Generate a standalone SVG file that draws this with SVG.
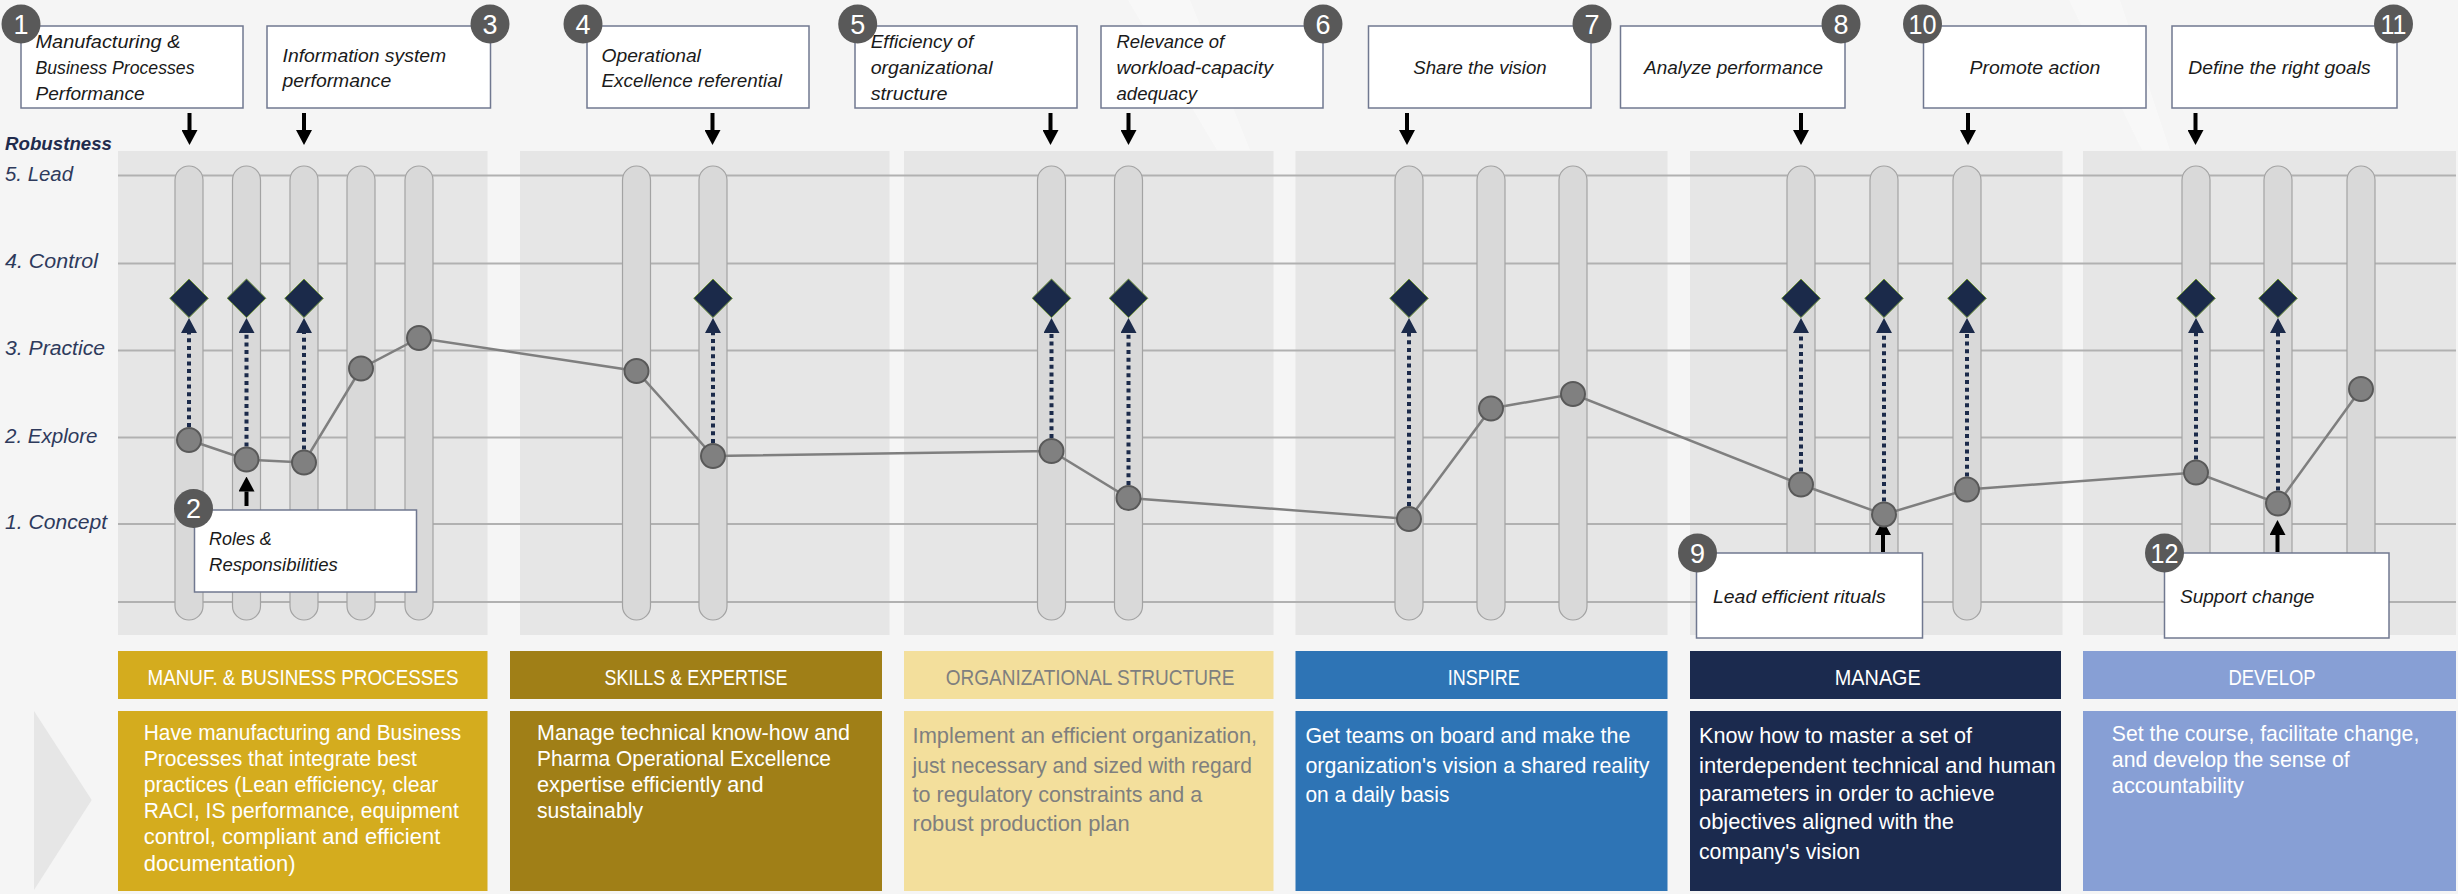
<svg xmlns="http://www.w3.org/2000/svg" width="2458" height="894" viewBox="0 0 2458 894">
<style>
.bg{fill:#f5f5f5}
.panel{fill:#e6e6e6}
.grid{stroke:#b1b1b1;stroke-width:2}
.track{fill:#d9d9d9;stroke:#a3a3a3;stroke-width:1.2}
.dia{fill:#1b2a4a;stroke:#6b8e3a;stroke-width:1}
.dot{stroke:#1b2a4a;stroke-width:4;stroke-dasharray:4 3.7;fill:none}
.pt{fill:#808080;stroke:#595959;stroke-width:2}
.pline{fill:none;stroke:#7f7f7f;stroke-width:2.5}
.box{fill:#ffffff;stroke:#707890;stroke-width:1.5}
.num{fill:#595959}
.numt{font-family:"Liberation Sans",Arial,sans-serif;font-size:27px;fill:#ffffff;text-anchor:middle}
.bt{font-family:"Liberation Sans",Arial,sans-serif;font-size:18px;font-style:italic;fill:#1a1a1a}
.btc{font-family:"Liberation Sans",Arial,sans-serif;font-size:18px;font-style:italic;fill:#1a1a1a;text-anchor:middle}
.ax{font-family:"Liberation Sans",Arial,sans-serif;font-size:20px;font-style:italic;fill:#2e3a5c}
.axt{font-family:"Liberation Sans",Arial,sans-serif;font-size:19px;font-style:italic;font-weight:bold;fill:#1f2b4d}
.hd{font-family:"Liberation Sans",Arial,sans-serif;font-size:22px;fill:#ffffff;text-anchor:middle}
.bd{font-family:"Liberation Sans",Arial,sans-serif;font-size:21.5px;fill:#ffffff}
.bd2{font-family:"Liberation Sans",Arial,sans-serif;font-size:22px;fill:#ffffff}
.grey{fill:#7f7f7f}
.arr{stroke:#000000;stroke-width:4;fill:none}
</style>
<defs>
<marker id="hb" viewBox="0 0 15 16" refX="0" refY="8" markerWidth="15" markerHeight="16" markerUnits="userSpaceOnUse" orient="auto"><path d="M0,0 L15,8 L0,16 Z" fill="#000000"/></marker>
<marker id="hn" viewBox="0 0 15 16" refX="0" refY="8" markerWidth="15" markerHeight="16" markerUnits="userSpaceOnUse" orient="auto"><path d="M0,0 L15,8 L0,16 Z" fill="#1b2a4a"/></marker>
</defs>

<rect class="bg" x="0" y="0" width="2458" height="894"/>
<polygon points="1128,0 1190,0 1250,150 1217,150" fill="#ffffff" opacity="0.35"/>
<polygon points="2069,0 2120,0 2170,150 2142,150" fill="#ffffff" opacity="0.35"/>
<polygon points="34,711 91.7,800 34,890" fill="#e6e6e6"/>

<g id="panels">
<rect class="panel" x="118" y="151" width="369.5" height="484"/>
<rect class="panel" x="520" y="151" width="369.5" height="484"/>
<rect class="panel" x="904" y="151" width="369.5" height="484"/>
<rect class="panel" x="1295.5" y="151" width="372" height="484"/>
<rect class="panel" x="1690" y="151" width="372.5" height="484"/>
<rect class="panel" x="2083" y="151" width="373" height="484"/>
</g>

<g id="grid">
<line class="grid" x1="118" y1="175.5" x2="2456" y2="175.5"/>
<line class="grid" x1="118" y1="263.5" x2="2456" y2="263.5"/>
<line class="grid" x1="118" y1="350.5" x2="2456" y2="350.5"/>
<line class="grid" x1="118" y1="437.5" x2="2456" y2="437.5"/>
<line class="grid" x1="118" y1="524" x2="2456" y2="524"/>
<line class="grid" x1="118" y1="602" x2="2456" y2="602"/>
</g>

<g id="axis">
<text class="axt" x="5" y="150" textLength="107" lengthAdjust="spacingAndGlyphs">Robustness</text>
<text class="ax" x="5" y="181" textLength="68" lengthAdjust="spacingAndGlyphs">5. Lead</text>
<text class="ax" x="5" y="268" textLength="93" lengthAdjust="spacingAndGlyphs">4. Control</text>
<text class="ax" x="5" y="355" textLength="100" lengthAdjust="spacingAndGlyphs">3. Practice</text>
<text class="ax" x="5" y="442.5" textLength="92.5" lengthAdjust="spacingAndGlyphs">2. Explore</text>
<text class="ax" x="5" y="529" textLength="102" lengthAdjust="spacingAndGlyphs">1. Concept</text>
</g>

<g id="tracks">
<rect class="track" x="175" y="166" width="28" height="454" rx="14"/>
<rect class="track" x="232.5" y="166" width="28" height="454" rx="14"/>
<rect class="track" x="290" y="166" width="28" height="454" rx="14"/>
<rect class="track" x="347" y="166" width="28" height="454" rx="14"/>
<rect class="track" x="405" y="166" width="28" height="454" rx="14"/>
<rect class="track" x="622.5" y="166" width="28" height="454" rx="14"/>
<rect class="track" x="699" y="166" width="28" height="454" rx="14"/>
<rect class="track" x="1037.5" y="166" width="28" height="454" rx="14"/>
<rect class="track" x="1114.5" y="166" width="28" height="454" rx="14"/>
<rect class="track" x="1395" y="166" width="28" height="454" rx="14"/>
<rect class="track" x="1477" y="166" width="28" height="454" rx="14"/>
<rect class="track" x="1559" y="166" width="28" height="454" rx="14"/>
<rect class="track" x="1787" y="166" width="28" height="454" rx="14"/>
<rect class="track" x="1870" y="166" width="28" height="454" rx="14"/>
<rect class="track" x="1953" y="166" width="28" height="454" rx="14"/>
<rect class="track" x="2182" y="166" width="28" height="454" rx="14"/>
<rect class="track" x="2264" y="166" width="28" height="454" rx="14"/>
<rect class="track" x="2347" y="166" width="28" height="454" rx="14"/>
</g>

<g id="connectors">
<polyline class="pline" points="189,440 246.5,459.5 304,462.5 361,368.5 419,338 636.5,371 713,456 1051.5,451 1128.5,498 1409,519 1491,408.5 1573,394 1801,484.5 1884,514.5 1967,489.5 2196,472.5 2278,503.5 2361,389"/>
<line class="dot" x1="189" y1="427" x2="189" y2="333" marker-end="url(#hn)"/>
<line class="dot" x1="246.5" y1="446.5" x2="246.5" y2="333" marker-end="url(#hn)"/>
<line class="dot" x1="304" y1="449.5" x2="304" y2="333" marker-end="url(#hn)"/>
<line class="dot" x1="713" y1="443" x2="713" y2="333" marker-end="url(#hn)"/>
<line class="dot" x1="1051.5" y1="438" x2="1051.5" y2="333" marker-end="url(#hn)"/>
<line class="dot" x1="1128.5" y1="485" x2="1128.5" y2="333" marker-end="url(#hn)"/>
<line class="dot" x1="1409" y1="506" x2="1409" y2="333" marker-end="url(#hn)"/>
<line class="dot" x1="1801" y1="471.5" x2="1801" y2="333" marker-end="url(#hn)"/>
<line class="dot" x1="1884" y1="501.5" x2="1884" y2="333" marker-end="url(#hn)"/>
<line class="dot" x1="1967" y1="476.5" x2="1967" y2="333" marker-end="url(#hn)"/>
<line class="dot" x1="2196" y1="459.5" x2="2196" y2="333" marker-end="url(#hn)"/>
<line class="dot" x1="2278" y1="490.5" x2="2278" y2="333" marker-end="url(#hn)"/>
<line class="arr" x1="189.5" y1="113" x2="189.5" y2="130" marker-end="url(#hb)"/>
<line class="arr" x1="304" y1="113" x2="304" y2="130" marker-end="url(#hb)"/>
<line class="arr" x1="712.5" y1="113" x2="712.5" y2="130" marker-end="url(#hb)"/>
<line class="arr" x1="1050.5" y1="113" x2="1050.5" y2="130" marker-end="url(#hb)"/>
<line class="arr" x1="1128.5" y1="113" x2="1128.5" y2="130" marker-end="url(#hb)"/>
<line class="arr" x1="1407" y1="113" x2="1407" y2="130" marker-end="url(#hb)"/>
<line class="arr" x1="1801" y1="113" x2="1801" y2="130" marker-end="url(#hb)"/>
<line class="arr" x1="1968" y1="113" x2="1968" y2="130" marker-end="url(#hb)"/>
<line class="arr" x1="2195.5" y1="113" x2="2195.5" y2="130" marker-end="url(#hb)"/>
<line class="arr" x1="246.5" y1="506" x2="246.5" y2="491.5" marker-end="url(#hb)"/>
<line class="arr" x1="1883" y1="552" x2="1883" y2="535" marker-end="url(#hb)"/>
<line class="arr" x1="2277.5" y1="552" x2="2277.5" y2="535" marker-end="url(#hb)"/>
</g>

<g id="diamonds">
<polygon class="dia" points="189,279 208.3,298.3 189,317.6 169.7,298.3"/>
<polygon class="dia" points="246.5,279 265.8,298.3 246.5,317.6 227.2,298.3"/>
<polygon class="dia" points="304,279 323.3,298.3 304,317.6 284.7,298.3"/>
<polygon class="dia" points="713,279 732.3,298.3 713,317.6 693.7,298.3"/>
<polygon class="dia" points="1051.5,279 1070.8,298.3 1051.5,317.6 1032.2,298.3"/>
<polygon class="dia" points="1128.5,279 1147.8,298.3 1128.5,317.6 1109.2,298.3"/>
<polygon class="dia" points="1409,279 1428.3,298.3 1409,317.6 1389.7,298.3"/>
<polygon class="dia" points="1801,279 1820.3,298.3 1801,317.6 1781.7,298.3"/>
<polygon class="dia" points="1884,279 1903.3,298.3 1884,317.6 1864.7,298.3"/>
<polygon class="dia" points="1967,279 1986.3,298.3 1967,317.6 1947.7,298.3"/>
<polygon class="dia" points="2196,279 2215.3,298.3 2196,317.6 2176.7,298.3"/>
<polygon class="dia" points="2278,279 2297.3,298.3 2278,317.6 2258.7,298.3"/>
</g>

<g id="points">
<circle class="pt" cx="189" cy="440" r="12"/>
<circle class="pt" cx="246.5" cy="459.5" r="12"/>
<circle class="pt" cx="304" cy="462.5" r="12"/>
<circle class="pt" cx="361" cy="368.5" r="12"/>
<circle class="pt" cx="419" cy="338" r="12"/>
<circle class="pt" cx="636.5" cy="371" r="12"/>
<circle class="pt" cx="713" cy="456" r="12"/>
<circle class="pt" cx="1051.5" cy="451" r="12"/>
<circle class="pt" cx="1128.5" cy="498" r="12"/>
<circle class="pt" cx="1409" cy="519" r="12"/>
<circle class="pt" cx="1491" cy="408.5" r="12"/>
<circle class="pt" cx="1573" cy="394" r="12"/>
<circle class="pt" cx="1801" cy="484.5" r="12"/>
<circle class="pt" cx="1884" cy="514.5" r="12"/>
<circle class="pt" cx="1967" cy="489.5" r="12"/>
<circle class="pt" cx="2196" cy="472.5" r="12"/>
<circle class="pt" cx="2278" cy="503.5" r="12"/>
<circle class="pt" cx="2361" cy="389" r="12"/>
</g>

<g id="box1">
<rect class="box" x="21" y="26" width="222" height="82"/>
<text class="bt" x="35.5" y="47.7" textLength="145" lengthAdjust="spacingAndGlyphs">Manufacturing &amp;</text>
<text class="bt" x="35.5" y="74" textLength="159" lengthAdjust="spacingAndGlyphs">Business Processes</text>
<text class="bt" x="35.5" y="100" textLength="109" lengthAdjust="spacingAndGlyphs">Performance</text>
<circle class="num" cx="21" cy="24" r="19.5"/><text class="numt" x="21" y="33.6">1</text>
</g>
<g id="box3">
<rect class="box" x="267" y="26" width="223.5" height="82"/>
<text class="bt" x="282.5" y="61.7" textLength="163.7" lengthAdjust="spacingAndGlyphs">Information system</text>
<text class="bt" x="282.5" y="87.3" textLength="108.8" lengthAdjust="spacingAndGlyphs">performance</text>
<circle class="num" cx="490" cy="24" r="19.5"/><text class="numt" x="490" y="33.6">3</text>
</g>
<g id="box4">
<rect class="box" x="587" y="26" width="222" height="82"/>
<text class="bt" x="601.5" y="61.7" textLength="99.4" lengthAdjust="spacingAndGlyphs">Operational</text>
<text class="bt" x="601.5" y="87.3" textLength="180.4" lengthAdjust="spacingAndGlyphs">Excellence referential</text>
<circle class="num" cx="583" cy="24" r="19.5"/><text class="numt" x="583" y="33.6">4</text>
</g>
<g id="box5">
<rect class="box" x="855" y="26" width="222" height="82"/>
<text class="bt" x="870.7" y="47.7" textLength="102.5" lengthAdjust="spacingAndGlyphs">Efficiency of</text>
<text class="bt" x="870.7" y="74" textLength="121.9" lengthAdjust="spacingAndGlyphs">organizational</text>
<text class="bt" x="870.7" y="100" textLength="76.9" lengthAdjust="spacingAndGlyphs">structure</text>
<circle class="num" cx="857.7" cy="24" r="19.5"/><text class="numt" x="857.7" y="33.6">5</text>
</g>
<g id="box6">
<rect class="box" x="1101" y="26" width="222" height="82"/>
<text class="bt" x="1116.5" y="47.7" textLength="107.7" lengthAdjust="spacingAndGlyphs">Relevance of</text>
<text class="bt" x="1116.5" y="74" textLength="156.4" lengthAdjust="spacingAndGlyphs">workload-capacity</text>
<text class="bt" x="1116.5" y="100" textLength="80.5" lengthAdjust="spacingAndGlyphs">adequacy</text>
<circle class="num" cx="1323" cy="24" r="19.5"/><text class="numt" x="1323" y="33.6">6</text>
</g>
<g id="box7">
<rect class="box" x="1368.5" y="26" width="222.5" height="82"/>
<text class="btc" x="1480" y="74" textLength="133.4" lengthAdjust="spacingAndGlyphs">Share the vision</text>
<circle class="num" cx="1592" cy="24" r="19.5"/><text class="numt" x="1592" y="33.6">7</text>
</g>
<g id="box8">
<rect class="box" x="1620.5" y="26" width="224.5" height="82"/>
<text class="btc" x="1733.5" y="74" textLength="178.9" lengthAdjust="spacingAndGlyphs">Analyze performance</text>
<circle class="num" cx="1841" cy="24" r="19.5"/><text class="numt" x="1841" y="33.6">8</text>
</g>
<g id="box10">
<rect class="box" x="1923.5" y="26" width="222.5" height="82"/>
<text class="btc" x="2035" y="74" textLength="130.8" lengthAdjust="spacingAndGlyphs">Promote action</text>
<circle class="num" cx="1922.5" cy="24" r="19.5"/><text class="numt" x="1922.5" y="33.6" textLength="28" lengthAdjust="spacingAndGlyphs">10</text>
</g>
<g id="box11">
<rect class="box" x="2172" y="26" width="225" height="82"/>
<text class="btc" x="2279.5" y="74" textLength="182.5" lengthAdjust="spacingAndGlyphs">Define the right goals</text>
<circle class="num" cx="2393.5" cy="24" r="19.5"/><text class="numt" x="2393.5" y="33.6" textLength="26" lengthAdjust="spacingAndGlyphs">11</text>
</g>
<g id="box2">
<rect class="box" x="194.5" y="510" width="222" height="82"/>
<text class="bt" x="209" y="545" textLength="62.8" lengthAdjust="spacingAndGlyphs">Roles &amp;</text>
<text class="bt" x="209" y="570.7" textLength="128.7" lengthAdjust="spacingAndGlyphs">Responsibilities</text>
<circle class="num" cx="193.5" cy="508.5" r="19.5"/><text class="numt" x="193.5" y="518.1">2</text>
</g>
<g id="box9">
<rect class="box" x="1696.5" y="553" width="226" height="85"/>
<text class="bt" x="1713" y="603.3" textLength="172.6" lengthAdjust="spacingAndGlyphs">Lead efficient rituals</text>
<circle class="num" cx="1697.5" cy="553" r="19.5"/><text class="numt" x="1697.5" y="562.6">9</text>
</g>
<g id="box12">
<rect class="box" x="2164.5" y="553" width="224.5" height="85"/>
<text class="bt" x="2180" y="603.3" textLength="134.4" lengthAdjust="spacingAndGlyphs">Support change</text>
<circle class="num" cx="2164.5" cy="553" r="19.5"/><text class="numt" x="2164.5" y="562.6" textLength="28" lengthAdjust="spacingAndGlyphs">12</text>
</g>

<g id="cat-manuf">
<rect x="118" y="651" width="369.5" height="48" fill="#d4ac1e"/>
<text class="hd" x="303" y="685" textLength="311" lengthAdjust="spacingAndGlyphs">MANUF. &amp; BUSINESS PROCESSES</text>
<rect x="118" y="711" width="369.5" height="180" fill="#d4ac1e"/>
<text class="bd" x="143.8" y="740" textLength="317.5" lengthAdjust="spacingAndGlyphs">Have manufacturing and Business</text>
<text class="bd" x="143.8" y="766.1" textLength="273" lengthAdjust="spacingAndGlyphs">Processes that integrate best</text>
<text class="bd" x="143.8" y="792.2" textLength="294.5" lengthAdjust="spacingAndGlyphs">practices (Lean efficiency, clear</text>
<text class="bd" x="143.8" y="818.3" textLength="315" lengthAdjust="spacingAndGlyphs">RACI, IS performance, equipment</text>
<text class="bd" x="143.8" y="844.4" textLength="296.5" lengthAdjust="spacingAndGlyphs">control, compliant and efficient</text>
<text class="bd" x="143.8" y="870.5" textLength="151.7" lengthAdjust="spacingAndGlyphs">documentation)</text>
</g>
<g id="cat-skills">
<rect x="510" y="651" width="372" height="48" fill="#a07f17"/>
<text class="hd" x="696" y="685" textLength="183" lengthAdjust="spacingAndGlyphs">SKILLS &amp; EXPERTISE</text>
<rect x="510" y="711" width="372" height="180" fill="#a07f17"/>
<text class="bd" x="537" y="740" textLength="313" lengthAdjust="spacingAndGlyphs">Manage technical know-how and</text>
<text class="bd" x="537" y="766.1" textLength="294" lengthAdjust="spacingAndGlyphs">Pharma Operational Excellence</text>
<text class="bd" x="537" y="792.2" textLength="226.5" lengthAdjust="spacingAndGlyphs">expertise efficiently and</text>
<text class="bd" x="537" y="818.3" textLength="106" lengthAdjust="spacingAndGlyphs">sustainably</text>
</g>
<g id="cat-org">
<rect x="904" y="651" width="369.5" height="48" fill="#f3df9c"/>
<text class="hd grey" x="1090" y="685" textLength="288.7" lengthAdjust="spacingAndGlyphs">ORGANIZATIONAL STRUCTURE</text>
<rect x="904" y="711" width="369.5" height="180" fill="#f3df9c"/>
<text class="bd2 grey" x="912.6" y="743.3" textLength="344.6" lengthAdjust="spacingAndGlyphs">Implement an efficient organization,</text>
<text class="bd2 grey" x="912.6" y="772.6" textLength="339.4" lengthAdjust="spacingAndGlyphs">just necessary and sized with regard</text>
<text class="bd2 grey" x="912.6" y="801.9" textLength="289.7" lengthAdjust="spacingAndGlyphs">to regulatory constraints and a</text>
<text class="bd2 grey" x="912.6" y="831.2" textLength="217" lengthAdjust="spacingAndGlyphs">robust production plan</text>
</g>
<g id="cat-inspire">
<rect x="1295.5" y="651" width="372" height="48" fill="#2e74b5"/>
<text class="hd" x="1483.7" y="685" textLength="72" lengthAdjust="spacingAndGlyphs">INSPIRE</text>
<rect x="1295.5" y="711" width="372" height="180" fill="#2e74b5"/>
<text class="bd2" x="1305.4" y="743.3" textLength="325" lengthAdjust="spacingAndGlyphs">Get teams on board and make the</text>
<text class="bd2" x="1305.4" y="772.6" textLength="344" lengthAdjust="spacingAndGlyphs">organization's vision a shared reality</text>
<text class="bd2" x="1305.4" y="801.9" textLength="144" lengthAdjust="spacingAndGlyphs">on a daily basis</text>
</g>
<g id="cat-manage">
<rect x="1690" y="651" width="371" height="48" fill="#1b2a4e"/>
<text class="hd" x="1877.8" y="685" textLength="86" lengthAdjust="spacingAndGlyphs">MANAGE</text>
<rect x="1690" y="711" width="371" height="180" fill="#1b2a4e"/>
<text class="bd2" x="1699" y="743.3" textLength="273" lengthAdjust="spacingAndGlyphs">Know how to master a set of</text>
<text class="bd2" x="1699" y="772.6" textLength="356.7" lengthAdjust="spacingAndGlyphs">interdependent technical and human</text>
<text class="bd2" x="1699" y="801.3" textLength="295.5" lengthAdjust="spacingAndGlyphs">parameters in order to achieve</text>
<text class="bd2" x="1699" y="829.3" textLength="255" lengthAdjust="spacingAndGlyphs">objectives aligned with the</text>
<text class="bd2" x="1699" y="858.7" textLength="161" lengthAdjust="spacingAndGlyphs">company's vision</text>
</g>
<g id="cat-develop">
<rect x="2083" y="651" width="373" height="48" fill="#879fd5"/>
<text class="hd" x="2272" y="685" textLength="87" lengthAdjust="spacingAndGlyphs">DEVELOP</text>
<rect x="2083" y="711" width="373" height="180" fill="#879fd5"/>
<text class="bd" x="2111.8" y="740.7" textLength="307.5" lengthAdjust="spacingAndGlyphs">Set the course, facilitate change,</text>
<text class="bd" x="2111.8" y="766.7" textLength="238" lengthAdjust="spacingAndGlyphs">and develop the sense of</text>
<text class="bd" x="2111.8" y="793" textLength="132" lengthAdjust="spacingAndGlyphs">accountability</text>
</g>
</svg>
